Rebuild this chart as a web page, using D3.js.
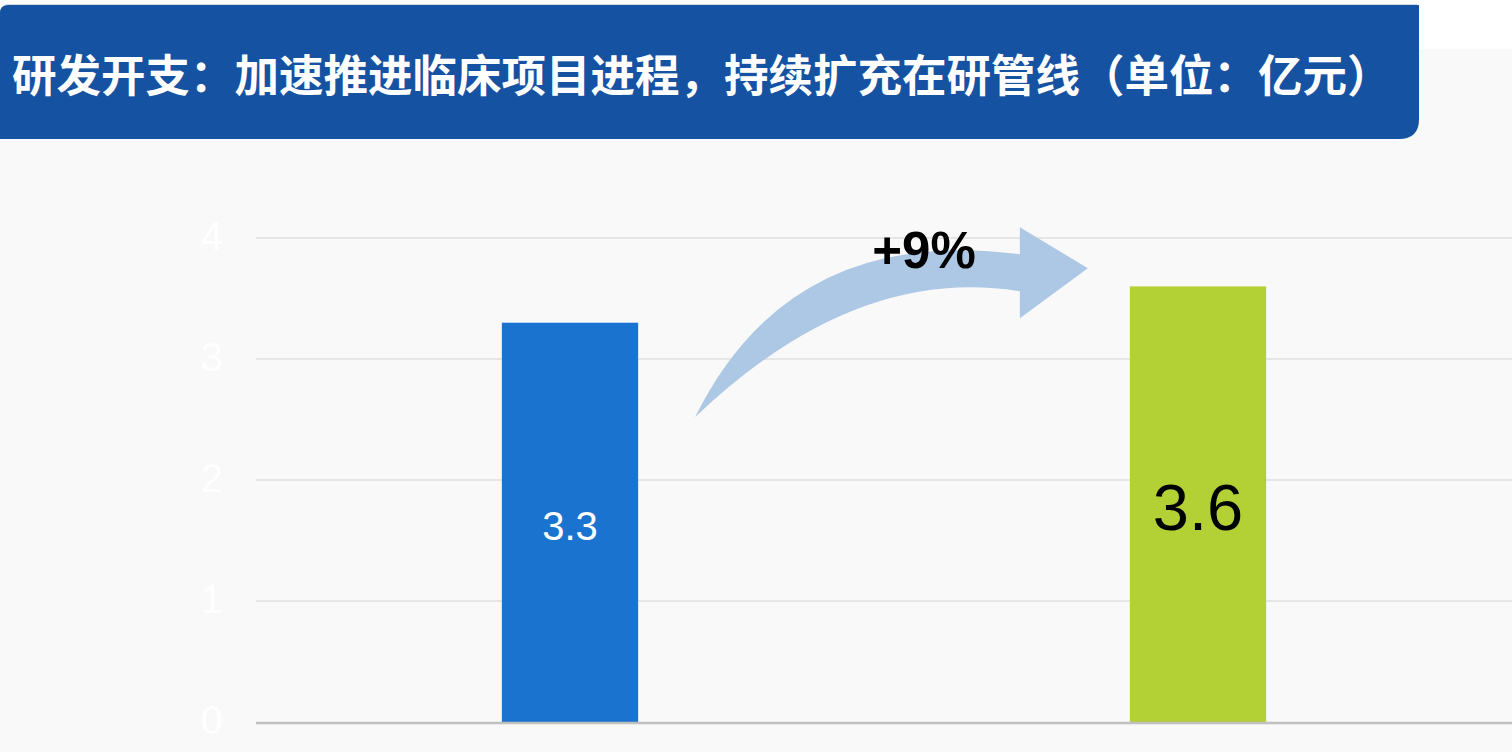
<!DOCTYPE html>
<html>
<head>
<meta charset="utf-8">
<script src="https://cdn.jsdelivr.net/npm/d3@7/dist/d3.min.js"></script>
<style>
  html, body { margin: 0; padding: 0; background: #fff; }
  svg { display: block; }
</style>
</head>
<body>
<div id="renderer"></div>
<script>
// chart data
const title = "研发开支：加速推进临床项目进程，持续扩充在研管线（单位：亿元）";
const categories = ["上期", "本期"];
const values = [3.3, 3.6];
const barColors = ["#1b73d0", "#b3d135"];
const labelColors = ["#ffffff", "#000000"];
const labelSizes = [40, 65];
const yTicks = [0, 1, 2, 3, 4];
const growthLabel = "+9%";

const width = 1512;
const height = 752;

const svg = d3.select("#renderer")
    .append("svg")
    .attr("width", width)
    .attr("height", height);

// light grey panel behind the chart
svg.append("rect")
    .attr("x", 0)
    .attr("y", 49)
    .attr("width", width)
    .attr("height", height - 49)
    .attr("fill", "#f9f9f9");

// title banner (rounded on the top-left and bottom-right)
const bx = 0, by = 5, bw = 1419, bh = 134, r1 = 8, r2 = 20;
svg.append("path")
    .attr("d", `M${bx},${by + r1} Q${bx},${by} ${bx + r1},${by}
                H${bx + bw} V${by + bh - r2}
                Q${bx + bw},${by + bh} ${bx + bw - r2},${by + bh}
                H${bx} Z`)
    .attr("fill", "#1652a2");

svg.append("line")
    .attr("x1", 6).attr("x2", bx + bw - 2)
    .attr("y1", 4.5).attr("y2", 4.5)
    .attr("stroke", "#d5dce6")
    .attr("stroke-width", 1);

svg.append("text")
    .attr("x", 12)
    .attr("y", 92)
    .attr("fill", "#ffffff")
    .attr("font-family", "'Noto Sans CJK SC', sans-serif")
    .attr("font-weight", 700)
    .attr("font-size", "44.5px")
    .text(title);

// scales
const x = d3.scaleBand()
    .domain(categories)
    .range([256, width])
    .paddingInner(0.783)
    .paddingOuter(0.3915);

const y = d3.scaleLinear()
    .domain([0, 4])
    .range([722, 238]);

// gridlines
svg.selectAll("line.grid")
    .data(yTicks.filter(d => d > 0))
    .join("line")
    .attr("class", "grid")
    .attr("x1", 256)
    .attr("x2", width)
    .attr("y1", d => y(d))
    .attr("y2", d => y(d))
    .attr("stroke", "#e6e6e6")
    .attr("stroke-width", 2);

// y tick labels (nearly white on the grey panel)
svg.selectAll("text.ytick")
    .data(yTicks)
    .join("text")
    .attr("class", "ytick")
    .attr("x", 223)
    .attr("y", d => y(d) + 12)
    .attr("text-anchor", "end")
    .attr("fill", "#ffffff")
    .attr("font-family", "'Liberation Sans', Arial, sans-serif")
    .attr("font-size", "40px")
    .text(d => d);

// bars
svg.selectAll("rect.bar")
    .data(values)
    .join("rect")
    .attr("class", "bar")
    .attr("x", (d, i) => x(categories[i]))
    .attr("y", d => y(d))
    .attr("width", x.bandwidth())
    .attr("height", d => y(0) - y(d))
    .attr("fill", (d, i) => barColors[i]);

// baseline
svg.append("line")
    .attr("x1", 256)
    .attr("x2", width)
    .attr("y1", y(0) + 1)
    .attr("y2", y(0) + 1)
    .attr("stroke", "#c0c0c0")
    .attr("stroke-width", 2.5);

// value labels centred in each bar
svg.selectAll("text.value")
    .data(values)
    .join("text")
    .attr("class", "value")
    .attr("x", (d, i) => x(categories[i]) + x.bandwidth() / 2)
    .attr("y", (d, i) => (y(d) + y(0)) / 2 + labelSizes[i] * 0.358 + 3)
    .attr("text-anchor", "middle")
    .attr("fill", (d, i) => labelColors[i])
    .attr("font-family", "'Liberation Sans', Arial, sans-serif")
    .attr("font-size", (d, i) => labelSizes[i] + "px")
    .text(d => d.toFixed(1));

// curved growth arrow between the bars
const tailX = x(categories[0]) + x.bandwidth() + 57;
const tailY = y(2.52);
const tipX = x(categories[1]) - 42;
const tipY = y(3.75);
const headBackX = tipX - 68;
const arrow = d3.path();
arrow.moveTo(tailX, tailY);
arrow.quadraticCurveTo(tailX + 95, tipY - 44, headBackX, tipY - 14);
arrow.lineTo(headBackX, tipY - 41);
arrow.lineTo(tipX, tipY);
arrow.lineTo(headBackX, tipY + 50);
arrow.lineTo(headBackX, tipY + 23);
arrow.quadraticCurveTo(tailX + 160, tipY - 4, tailX, tailY);
arrow.closePath();

svg.append("path")
    .attr("d", arrow.toString())
    .attr("fill", "#adc8e4");

svg.append("text")
    .attr("x", 924)
    .attr("y", 268)
    .attr("text-anchor", "middle")
    .attr("fill", "#000000")
    .attr("font-family", "'Liberation Sans', Arial, sans-serif")
    .attr("font-weight", 700)
    .attr("font-size", "51px")
    .text(growthLabel);
</script>
</body>
</html>
